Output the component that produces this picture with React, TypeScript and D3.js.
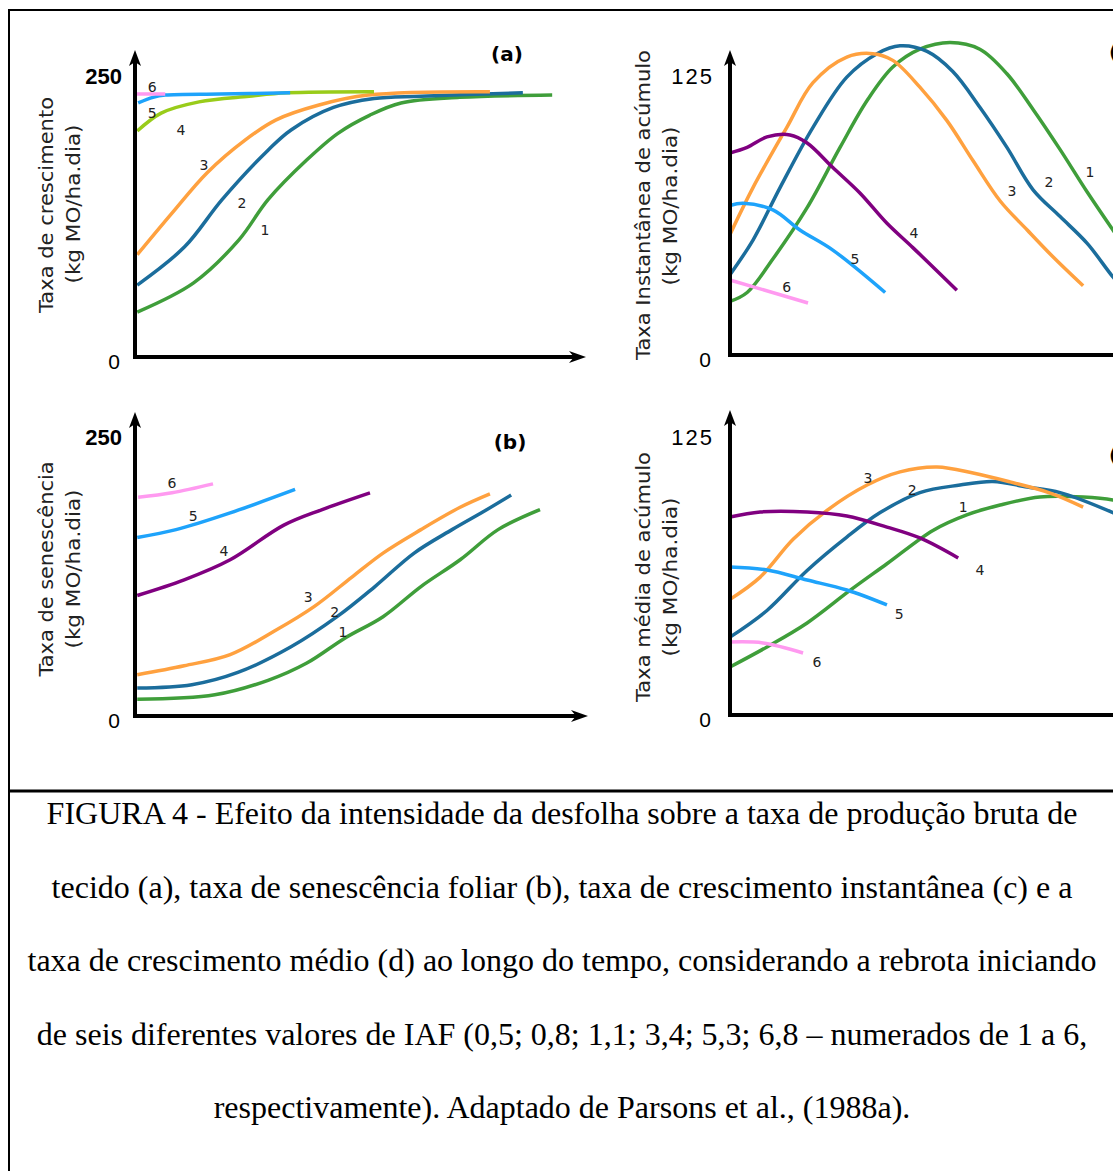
import React from 'react';
import * as d3 from 'd3';

const W = 1113;
const H = 1171;

// colours of the curves 1..6 (curve 4 is yellow-green in panel a, purple elsewhere)
const COLORS = ['#3f9e3a', '#1b6d9c', '#ffa13f', '#800080', '#1ea3fb', '#ff9af0'];
const COLOR_4A = '#99cc1a';

type Pt = [number, number];

// (a) taxa de crescimento  [tempo, kg MO/ha.dia]
const a1: Pt[] = [[0.5, 40], [13, 66], [23, 104], [29.5, 140], [38, 175], [45, 199], [52, 215], [59, 226], [72, 231], [92.5, 233]];
const a2: Pt[] = [[0.5, 64], [11, 98], [19.3, 140], [29.5, 184], [34.6, 202], [44, 222], [53, 230], [63.4, 232], [86, 235]];
const a3: Pt[] = [[0.5, 91], [8.2, 128], [16, 164], [24.4, 193], [31.3, 211], [40.6, 224], [51.7, 233], [78.7, 236]];
const a4: Pt[] = [[0.5, 201], [5.8, 217], [14.2, 227], [25.3, 232], [33.7, 235], [53, 236]];
const a5: Pt[] = [[0.7, 226], [4, 231], [6.7, 233], [18.8, 234], [34.4, 235]];
const a6: Pt[] = [[0.4, 234], [6.7, 234]];

// (b) taxa de senescência
const b1: Pt[] = [[0.5, 15], [17.7, 19], [29.5, 32], [38.1, 47.5], [46.6, 70], [55, 89], [63.4, 116], [72.1, 140], [80.5, 167], [89.8, 185]];
const b2: Pt[] = [[0.5, 25], [12.6, 28], [22.8, 39], [34.6, 62], [44.8, 89], [53.2, 116], [61.9, 146], [70.3, 167], [77.2, 183], [83.4, 198]];
const b3: Pt[] = [[0.5, 37], [10.9, 45], [21.1, 55], [31.3, 77], [39.7, 98], [48.1, 124.5], [55, 146], [63.4, 167], [72.1, 187], [78.7, 199]];
const b4: Pt[] = [[0.5, 108], [10.9, 122], [21.1, 140], [33, 171], [41.5, 185], [52.1, 200]];
const b5: Pt[] = [[0.5, 160], [9.1, 167], [21.1, 182], [35.5, 203]];
const b6: Pt[] = [[0.7, 196], [8.2, 200], [17.3, 208]];

// (c) taxa instantânea de acúmulo
const c1: Pt[] = [[0, 24], [3.8, 28], [9.5, 43], [17.1, 66], [24.4, 93], [30.4, 114], [36.1, 129], [42.1, 137], [48.8, 140], [55.4, 137], [61.4, 126], [67.2, 110], [73.2, 92], [79.2, 73], [84.9, 56], [88, 47]];
const c2: Pt[] = [[0, 36], [5.1, 51.5], [11.1, 75], [18.4, 102], [25.9, 124.5], [32.6, 135], [37.7, 138.5], [43.7, 136], [49.4, 127], [55.4, 111], [61.4, 93], [67.2, 74], [73.2, 62], [79.2, 50], [84.9, 35], [88, 28]];
const c3: Pt[] = [[0, 54], [5.1, 75], [12.6, 102], [18.4, 122], [25.9, 133.5], [31.7, 135], [36.1, 132], [42.1, 120], [48.1, 105], [53.9, 87], [59.9, 69], [65.9, 56], [71.6, 44], [78.3, 31]];
const c4: Pt[] = [[0, 90.5], [3.8, 93], [8.2, 97.7], [13.3, 98.6], [17.1, 95], [22.8, 84], [28.8, 72.6], [34.8, 59], [40.6, 48], [50.3, 29]];
const c5: Pt[] = [[0, 67], [2.9, 68], [9.5, 65], [15.5, 56], [22.8, 47], [34.4, 28]];
const c6: Pt[] = [[0, 33.6], [17.3, 23.3]];

// (d) taxa média de acúmulo
const m1: Pt[] = [[0, 21.6], [8.2, 30.6], [17.1, 41.4], [26.6, 56], [34.8, 68], [45, 83], [52.5, 90], [59.9, 94.4], [68.7, 98], [78.3, 98], [84.9, 96.7], [88, 95]];
const m2: Pt[] = [[0, 35], [8.2, 47], [17.1, 65], [25.9, 80], [33.3, 91], [42.1, 100], [51, 103.4], [58.3, 105], [65.9, 102.5], [73.2, 100], [84.9, 91], [88, 88]];
const m3: Pt[] = [[0, 52], [6.7, 62], [14, 79], [21.5, 92], [30.4, 103.4], [37.7, 109.3], [45.9, 111.5], [53.9, 108.8], [62.1, 104.8], [71, 99.8], [78.3, 93.5]];
const m4: Pt[] = [[0, 89], [6.7, 91.3], [17.1, 91.3], [25.9, 89.5], [34.8, 84.5], [42.1, 79.6], [50.6, 70.6]];
const m5: Pt[] = [[0, 66.5], [8.2, 65.2], [17.1, 60.7], [25.9, 56.2], [34.8, 49.5]];
const m6: Pt[] = [[0, 32.8], [7.3, 32.4], [16.2, 27.9]];

// curve number labels [label, tempo, valor]
const aLabels: [string, number, number][] = [['6', 3.8, 240], ['5', 3.8, 217], ['4', 10.2, 202], ['3', 15.3, 171], ['2', 23.7, 137], ['1', 28.8, 113]];
const bLabels: [string, number, number][] = [['6', 8.2, 209], ['5', 12.9, 179], ['4', 19.7, 148], ['3', 38.4, 106.6], ['2', 44.3, 93], ['1', 46.1, 75]];
const cLabels: [string, number, number][] = [['1', 79.8, 82], ['2', 70.7, 77.5], ['3', 62.5, 73.5], ['4', 40.8, 54.7], ['5', 27.7, 43], ['6', 12.6, 30.5]];
const dLabels: [string, number, number][] = [['3', 30.6, 106.6], ['2', 40.4, 101], ['1', 51.7, 93.5], ['4', 55.4, 65.2], ['5', 37.5, 45.4], ['6', 19.3, 23.8]];

const caption = [
  'FIGURA 4 - Efeito da intensidade da desfolha sobre a taxa de produção bruta de',
  'tecido (a), taxa de senescência foliar (b), taxa de crescimento instantânea (c) e a',
  'taxa de crescimento médio (d) ao longo do tempo, considerando a rebrota iniciando',
  'de seis diferentes valores de IAF (0,5; 0,8; 1,1; 3,4; 5,3; 6,8 – numerados de 1 a 6,',
  'respectivamente). Adaptado de Parsons et al., (1988a).',
];

const SANS = 'DejaVu Sans, Verdana, sans-serif';

function Panel(props: any) {
  const { x0, x1, yZero, yMax, top, arrowX, max, curves, colors, labels, title, titleLen,
    titleX, subX, titleY, subY, tag, tagX, tagY, tagAnchor, tickBold, tickEnd, zeroEnd } = props;
  const x = d3.scaleLinear().domain([0, 100]).range([x0, x1]);
  const y = d3.scaleLinear().domain([0, max]).range([yZero, yMax]);
  const line = d3.line<Pt>()
    .x((d) => x(d[0]))
    .y((d) => y(d[1]))
    .curve(d3.curveCatmullRom.alpha(0.5));
  const ax = x(0);
  const ay = y(0);
  return (
    <g>
      {curves.map((c: Pt[], i: number) => (
        <path key={i} d={line(c) || ''} fill="none" stroke={colors[i]} strokeWidth={3.5}
          strokeLinejoin="round" />
      ))}
      {/* axes */}
      <line x1={ax} x2={ax} y1={ay + 2} y2={top + 10} stroke="#000" strokeWidth={4} />
      <polygon points={`${ax},${top} ${ax - 6},${top + 16} ${ax},${top + 12} ${ax + 6},${top + 16}`} fill="#000" />
      <line x1={ax - 2} x2={arrowX - 10} y1={ay} y2={ay} stroke="#000" strokeWidth={4} />
      <polygon points={`${arrowX},${ay} ${arrowX - 17},${ay - 6} ${arrowX - 12},${ay} ${arrowX - 17},${ay + 6}`} fill="#000" />
      <text x={tickEnd} y={y(max)} dy="0.36em" textAnchor="end" fontFamily="Liberation Sans, Arial, sans-serif"
        fontSize={22} fontWeight={tickBold ? 'bold' : 'normal'} letterSpacing={tickBold ? 0 : 2}>{max}</text>
      <text x={zeroEnd} y={ay + 4} dy="0.36em" textAnchor="end" fontFamily="Liberation Sans, Arial, sans-serif"
        fontSize={21}>0</text>
      {labels.map((l: [string, number, number], i: number) => (
        <text key={i} x={x(l[1])} y={y(l[2])} dy="0.36em" textAnchor="middle" fontFamily={SANS}
          fontSize={14} fill="#222">{l[0]}</text>
      ))}
      <text transform={`translate(${titleX},${titleY}) rotate(-90)`} dy="0.36em" textAnchor="middle"
        fontFamily={SANS} fontSize={19} textLength={titleLen} lengthAdjust="spacingAndGlyphs" fill="#222">{title}</text>
      <text transform={`translate(${subX},${subY}) rotate(-90)`} dy="0.36em" textAnchor="middle"
        fontFamily={SANS} fontSize={19} textLength={159} lengthAdjust="spacingAndGlyphs" fill="#222">(kg MO/ha.dia)</text>
      <text x={tagX} y={tagY} dy="0.36em" textAnchor={tagAnchor} fontFamily={SANS} fontWeight="bold"
        fontSize={20}>{tag}</text>
    </g>
  );
}

export default function App() {
  const colorsA = [COLORS[0], COLORS[1], COLORS[2], COLOR_4A, COLORS[4], COLORS[5]];
  return (
    <svg width={W} height={H} style={{ position: 'absolute', left: 0, top: 0, background: '#fff' }}>
      <rect x={0} y={0} width={W} height={H} fill="#fff" />
      <Panel x0={135} x1={586} yZero={357} yMax={76} top={50} arrowX={586} max={250}
        curves={[a1, a2, a3, a4, a5, a6]} colors={colorsA} labels={aLabels}
        title="Taxa de crescimento" titleLen={216} titleX={46} subX={73} titleY={205} subY={204}
        tag="(a)" tagX={507} tagY={54} tagAnchor="middle" tickBold tickEnd={122} zeroEnd={120} />
      <Panel x0={135} x1={586} yZero={716} yMax={437} top={412} arrowX={588} max={250}
        curves={[b1, b2, b3, b4, b5, b6]} colors={COLORS} labels={bLabels}
        title="Taxa de senescência" titleLen={215} titleX={46} subX={73} titleY={569} subY={569}
        tag="(b)" tagX={510} tagY={442} tagAnchor="middle" tickBold tickEnd={122} zeroEnd={120} />
      <Panel x0={730} x1={1181} yZero={355} yMax={76} top={50} arrowX={1181} max={125}
        curves={[c1, c2, c3, c4, c5, c6]} colors={COLORS} labels={cLabels}
        title="Taxa Instantânea de acúmulo" titleLen={310} titleX={643} subX={670} titleY={205} subY={206}
        tag="(c)" tagX={1109} tagY={52} tagAnchor="start" tickBold={false} tickEnd={714} zeroEnd={711} />
      <Panel x0={730} x1={1181} yZero={715} yMax={437} top={410} arrowX={1181} max={125}
        curves={[m1, m2, m3, m4, m5, m6]} colors={COLORS} labels={dLabels}
        title="Taxa média de acúmulo" titleLen={250} titleX={643} subX={670} titleY={577} subY={577}
        tag="(d)" tagX={1109} tagY={455} tagAnchor="start" tickBold={false} tickEnd={714} zeroEnd={711} />
      {/* frame */}
      <rect x={9} y={10} width={1300} height={1300} fill="none" stroke="#000" strokeWidth={2} />
      <line x1={8} x2={W} y1={791} y2={791} stroke="#000" strokeWidth={3} />
      {caption.map((t, i) => (
        <text key={i} x={562} y={824 + i * 73.5} textAnchor="middle"
          fontFamily="Liberation Serif, Times New Roman, serif" fontSize={32}>{t}</text>
      ))}
    </svg>
  );
}
